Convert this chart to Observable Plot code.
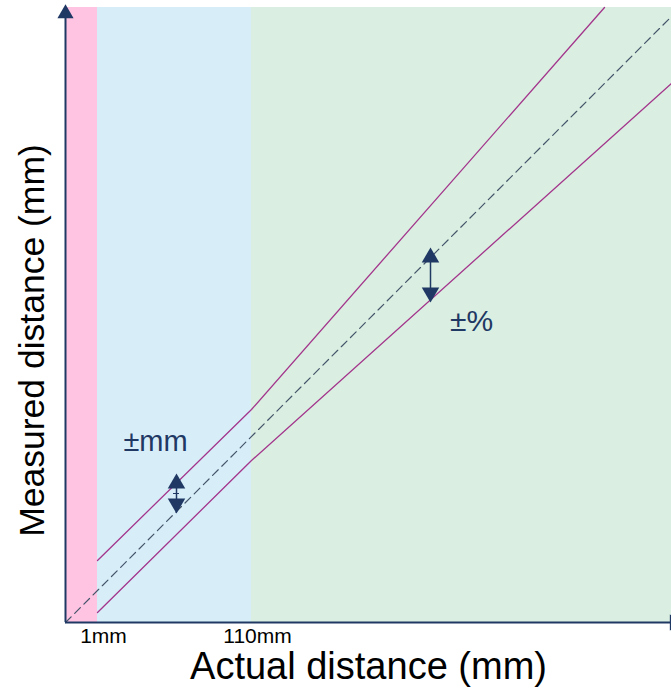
<!DOCTYPE html>
<html><head><meta charset="utf-8">
<script src="https://cdn.jsdelivr.net/npm/d3@7"></script>
<script src="https://cdn.jsdelivr.net/npm/@observablehq/plot@0.6"></script>
<style>body{margin:0;background:#fff;font-family:"Liberation Sans",Arial,sans-serif}</style>
</head><body><div id="chart"></div>
<script>
// Abstract chart units (the x axis is schematic, not linear in mm)
const zoneNames = ["dead", "mm", "percent"];
const zoneStart = [0, 32, 186];
const zoneEnd = [32, 186, 606];
const zoneColors = ["#FFC4E2", "#D7EEF8", "#DAEFE1"];

const tickPos = [32, 186];
const tickLabels = ["1mm", "110mm"];

const idealX = [0, 606];
const idealY = [0, 606];
const upperX = [32, 186, 539];
const upperY = [62, 213, 615];
const lowerX = [32, 186, 606];
const lowerY = [10, 162, 539];

const arrowMmX = 111, arrowMmY = [114, 144];
const arrowPctX = 365, arrowPctY = [325, 370];

const navy = "#1F3864";
const purple = "#A3358C";

const zones = zoneNames.map((n, i) => ({n, x1: zoneStart[i], x2: zoneEnd[i], c: zoneColors[i]}));
const pts = (xs, ys) => xs.map((x, i) => ({x, y: ys[i]}));

const plot = Plot.plot({
  width: 671, height: 693,
  marginLeft: 65, marginRight: 0, marginTop: 7, marginBottom: 71,
  x: {domain: [0, 606], axis: null},
  y: {domain: [0, 615], axis: null},
  style: {fontFamily: "'Liberation Sans', Arial, sans-serif", background: "white", overflow: "visible"},
  marks: [
    Plot.rect(zones, {x1: "x1", x2: "x2", y1: 0, y2: 615, fill: "c"}),
    Plot.line(pts(idealX, idealY), {x: "x", y: "y", stroke: "#44546A", strokeWidth: 1.2, strokeDasharray: "8,5"}),
    Plot.line(pts(upperX, upperY), {x: "x", y: "y", stroke: purple, strokeWidth: 1.3}),
    Plot.line(pts(lowerX, lowerY), {x: "x", y: "y", stroke: purple, strokeWidth: 1.3}),
    // axes
    Plot.ruleX([0], {y1: 0, y2: 608, stroke: navy, strokeWidth: 2}),
    Plot.ruleY([0], {x1: 0, x2: 606, stroke: navy, strokeWidth: 2}),
    Plot.dot([{x: 0, y: 609}], {x: "x", y: "y", symbol: "triangle", r: 6, fill: navy, stroke: null}),
    Plot.dot([{x: 609, y: 0}], {x: "x", y: "y", symbol: "triangle", r: 6, fill: navy, stroke: null, rotate: 90}),
    // tolerance arrows
    Plot.ruleX([arrowMmX], {y1: arrowMmY[0] + 6, y2: arrowMmY[1] - 6, stroke: navy, strokeWidth: 1.5}),
    Plot.ruleY([(arrowMmY[0] + arrowMmY[1]) / 2], {x1: arrowMmX - 3, x2: arrowMmX + 3, stroke: navy, strokeWidth: 1}),
    Plot.dot([{x: arrowMmX, y: arrowMmY[1] - 5, r: 0}, {x: arrowMmX, y: arrowMmY[0] + 5, r: 180}], {x: "x", y: "y", rotate: "r", symbol: "triangle", r: 6.5, fill: navy, stroke: null}),
    Plot.ruleX([arrowPctX], {y1: arrowPctY[0] + 6, y2: arrowPctY[1] - 6, stroke: navy, strokeWidth: 1.5}),
    Plot.dot([{x: arrowPctX, y: arrowPctY[1] - 5, r: 0}, {x: arrowPctX, y: arrowPctY[0] + 5, r: 180}], {x: "x", y: "y", rotate: "r", symbol: "triangle", r: 6.5, fill: navy, stroke: null}),
    // annotations
    Plot.text(["±mm"], {x: 90, y: 172, text: d => d, fontSize: 29, fill: navy, lineAnchor: "bottom", textAnchor: "middle"}),
    Plot.text(["±%"], {x: 406, y: 292, text: d => d, fontSize: 30, fill: navy, lineAnchor: "bottom", textAnchor: "middle"}),
    // tick labels
    Plot.text(tickPos, {x: d => d, y: 0, text: (d, i) => tickLabels[i], dx: 6, dy: 20, fontSize: 21, fill: "#000", lineAnchor: "bottom", textAnchor: "middle"}),
    // axis titles
    Plot.text(["Actual distance (mm)"], {x: 303, y: 0, dy: 56, text: d => d, fontSize: 38, fill: "#000", lineAnchor: "bottom", textAnchor: "middle"}),
    Plot.text(["Measured distance (mm)"], {x: 0, y: 282, dx: -22, text: d => d, fontSize: 35.5, fill: "#000", lineAnchor: "bottom", textAnchor: "middle", rotate: -90})
  ]
});
document.getElementById("chart").appendChild(plot);
</script></body></html>
